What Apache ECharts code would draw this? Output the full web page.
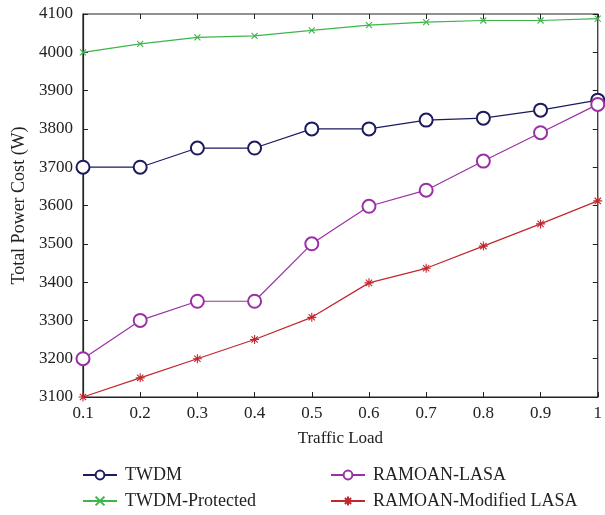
<!DOCTYPE html>
<html><head><meta charset="utf-8">
<script src="https://cdn.jsdelivr.net/npm/echarts@6/dist/echarts.min.js"></script>
<style>html,body{margin:0;padding:0;background:#fff}#c{width:605px;height:515px}</style>
</head><body><div id="c"></div>
<script>
const categories = ['0.1','0.2','0.3','0.4','0.5','0.6','0.7','0.8','0.9','1'];
const twdm = [3700,3700,3750,3750,3800,3800,3823,3828,3849,3875];
const twdmProtected = [4000,4022,4039,4043,4057,4071,4079,4083,4083,4088];
const ramoanLasa = [3200,3300,3350,3350,3500,3598,3640,3716,3790,3864];
const ramoanModified = [3100,3150,3200,3250,3308,3398,3436,3494,3552,3612];
const names = ['TWDM','TWDM-Protected','RAMOAN-LASA','RAMOAN-Modified LASA'];

const font = '"Liberation Serif", "DejaVu Serif", serif';
const crossPath = 'path://M0,0L10,10M10,0L0,10';
const starPath = 'path://M5,0L5,10M0,5L10,5M1.5,1.5L8.5,8.5M8.5,1.5L1.5,8.5';

function mk(name, data, color, symbol, size){
  return {name, type:'line', data, color, symbol, symbolSize:size,
    lineStyle:{color, width:1.2}, itemStyle:{color, borderColor:color, borderWidth:1.1},
    emphasis:{disabled:true}, animation:false, z:3};
}
const legendPos = [[77,461],[77,487],[325,461],[325,487]];
const legends = names.map((n,i)=>({
  show:true, data:[{name:n}], orient:'horizontal', left:legendPos[i][0], top:legendPos[i][1],
  itemWidth:34, itemHeight:11, itemGap:10, selectedMode:false,
  textStyle:{fontFamily:font, fontSize:18, color:'#222', padding:[0,0,0,3]}
}));
const chart = echarts.init(document.getElementById('c'), null, {renderer:'canvas'});
const tickStyle = {show:true, inside:true, length:5, lineStyle:{color:'#222', width:1}};
chart.setOption({
  backgroundColor:'#fff',
  textStyle:{fontFamily:font},
  grid:{left:83, right:4, top:14, bottom:118, show:true, borderColor:'#222', borderWidth:1.2},
  legend:legends,
  xAxis:[
    {type:'category', data:categories, boundaryGap:false,
     name:'Traffic Load', nameLocation:'middle', nameGap:33,
     nameTextStyle:{fontFamily:font, fontSize:17, color:'#222'},
     axisLine:{lineStyle:{color:'#222', width:1.2}}, axisTick:tickStyle,
     axisLabel:{fontFamily:font, fontSize:17, color:'#222', margin:8}, splitLine:{show:false}},
    {type:'category', data:categories, boundaryGap:false, position:'top',
     axisLine:{show:false}, axisTick:tickStyle, axisLabel:{show:false}, splitLine:{show:false}}
  ],
  yAxis:[
    {type:'value', min:3100, max:4100, interval:100,
     name:'Total Power Cost (W)', nameLocation:'middle', nameGap:55,
     nameTextStyle:{fontFamily:font, fontSize:18, color:'#222'},
     axisLine:{show:true, lineStyle:{color:'#222', width:1.2}}, axisTick:tickStyle,
     axisLabel:{fontFamily:font, fontSize:17, color:'#222', margin:10, formatter:v=>String(v)}, splitLine:{show:false}},
    {type:'value', min:3100, max:4100, interval:100, position:'right',
     axisLine:{show:false}, axisTick:tickStyle, axisLabel:{show:false}, splitLine:{show:false}}
  ],
  series:[
    mk(names[0], twdm, '#1b1b5e', 'emptyCircle', 13),
    mk(names[1], twdmProtected, '#3db54a', crossPath, 6),
    mk(names[2], ramoanLasa, '#9b30a6', 'emptyCircle', 13),
    mk(names[3], ramoanModified, '#c1272d', starPath, 9)
  ]
});
</script></body></html>
